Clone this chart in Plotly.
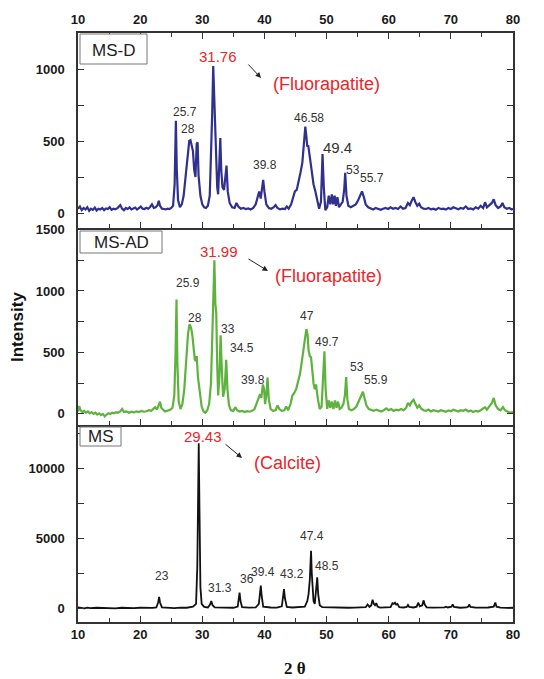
import plotly.graph_objects as go

# ---------------- data ----------------
msd_points = [(10.0,30),(10.3,45),(10.6,20),(10.9,35),(11.2,25),(11.5,40),(11.8,15),(12.1,30),(12.4,22),(12.7,38),
(13.0,18),(13.3,30),(13.6,25),(13.9,35),(14.2,20),(14.5,32),(14.8,28),(15.1,40),(15.4,22),(15.7,30),(16.0,26),
(16.4,36),(16.8,55),(17.1,30),(17.4,20),(17.7,35),(18.0,28),(18.3,40),(18.6,25),(18.9,30),(19.2,38),(19.5,24),
(19.8,33),(20.1,45),(20.4,30),(20.7,28),(21.0,36),(21.3,30),(21.6,42),(21.9,60),(22.2,35),(22.5,40),(22.8,55),
(23.0,85),(23.2,50),(23.5,30),(23.8,28),(24.1,25),(24.4,30),(24.7,28),(25.0,35),(25.3,50),(25.55,200),(25.75,640),
(25.9,300),(26.1,90),(26.4,40),(26.7,60),(27.0,120),(27.3,250),(27.6,420),(27.9,500),(28.1,505),(28.3,470),(28.5,430),
(28.7,300),(28.9,250),(29.1,480),(29.25,490),(29.4,260),(29.7,120),(30.0,60),(30.3,40),(30.6,35),(30.9,50),(31.2,120),
(31.45,400),(31.6,700),(31.76,1020),(31.9,800),(32.05,660),(32.2,450),(32.4,180),(32.55,130),(32.75,350),(32.9,520),
(33.05,300),(33.25,180),(33.5,160),(33.75,250),(33.9,330),(34.1,150),(34.4,70),(34.8,40),(35.2,35),(35.5,70),(35.8,45),
(36.2,30),(36.6,35),(37.0,28),(37.4,32),(37.8,25),(38.2,35),(38.6,60),(38.9,110),(39.15,150),(39.4,100),(39.6,160),
(39.8,230),(40.0,150),(40.3,60),(40.7,35),(41.1,30),(41.5,40),(41.8,55),(42.1,35),(42.5,25),(42.9,30),(43.3,28),
(43.6,45),(43.9,30),(44.3,60),(44.6,110),(44.9,150),(45.2,160),(45.5,210),(45.8,280),(46.1,350),(46.35,480),
(46.58,600),(46.75,530),(46.9,460),(47.05,470),(47.2,420),(47.4,380),(47.6,300),(47.9,200),(48.2,150),(48.5,90),
(48.8,30),(49.1,80),(49.35,410),(49.55,180),(49.8,20),(50.1,40),(50.35,120),(50.6,60),(50.85,130),(51.05,60),
(51.3,120),(51.5,50),(51.75,110),(52.0,40),(52.3,60),(52.6,80),(52.85,170),(53.0,280),(53.2,120),(53.5,50),(53.9,40),
(54.3,50),(54.7,60),(55.1,90),(55.4,120),(55.7,150),(56.0,110),(56.3,60),(56.7,40),(57.1,30),(57.5,25),(57.9,35),
(58.3,30),(58.7,22),(59.1,30),(59.5,35),(59.9,28),(60.3,40),(60.7,30),(61.1,35),(61.5,28),(61.9,45),(62.3,30),
(62.7,35),(63.1,70),(63.4,55),(63.7,85),(64.0,110),(64.3,75),(64.6,50),(64.9,65),(65.2,40),(65.6,30),(66.0,28),
(66.4,35),(66.8,25),(67.2,30),(67.6,22),(68.0,35),(68.4,28),(68.8,30),(69.2,24),(69.6,35),(70.0,28),(70.4,40),
(70.8,30),(71.2,26),(71.6,35),(72.0,30),(72.4,45),(72.8,28),(73.2,32),(73.6,25),(74.0,40),(74.4,30),(74.8,50),
(75.2,35),(75.5,75),(75.8,40),(76.2,55),(76.6,70),(76.9,95),(77.2,55),(77.6,35),(78.0,45),(78.3,70),(78.6,40),
(79.0,30),(79.4,35),(79.8,25),(80.0,30)]

msad_points = [(10.0,20),(10.2,65),(10.4,30),(10.7,15),(11.0,25),(11.3,10),(11.6,20),(11.9,5),(12.2,15),(12.5,0),
(12.8,10),(13.1,-5),(13.4,5),(13.7,-10),(14.0,0),(14.3,-20),(14.6,-5),(14.9,5),(15.2,0),(15.5,10),(15.8,5),(16.1,15),
(16.4,10),(16.8,20),(17.1,40),(17.4,15),(17.8,20),(18.2,10),(18.6,18),(19.0,12),(19.4,20),(19.8,15),(20.2,25),
(20.6,18),(21.0,22),(21.4,30),(21.8,25),(22.1,40),(22.4,55),(22.7,35),(23.0,70),(23.2,100),(23.4,50),(23.7,30),
(24.0,20),(24.3,25),(24.6,30),(24.9,35),(25.2,50),(25.5,150),(25.7,500),(25.85,930),(26.0,400),(26.2,100),(26.5,40),
(26.8,80),(27.1,200),(27.4,400),(27.7,650),(27.95,730),(28.2,700),(28.4,640),(28.6,560),(28.8,440),(29.0,430),
(29.1,470),(29.3,300),(29.6,150),(29.9,60),(30.2,20),(30.5,10),(30.8,30),(31.1,80),(31.4,250),(31.7,700),(31.95,1250),
(32.1,900),(32.25,820),(32.4,400),(32.55,150),(32.75,300),(32.95,640),(33.15,350),(33.35,140),(33.6,200),(33.85,440),
(34.05,200),(34.3,70),(34.6,30),(35.0,25),(35.3,55),(35.6,30),(36.0,20),(36.4,25),(36.8,15),(37.2,22),(37.6,18),
(38.0,25),(38.4,40),(38.7,90),(39.0,120),(39.3,160),(39.5,130),(39.75,240),(39.95,200),(40.1,80),(40.3,150),
(40.5,295),(40.7,120),(41.0,40),(41.4,25),(41.8,30),(42.1,70),(42.4,40),(42.8,25),(43.2,30),(43.5,60),(43.8,30),
(44.2,80),(44.5,150),(44.8,170),(45.1,200),(45.4,250),(45.7,320),(46.0,420),(46.3,550),(46.55,620),(46.75,690),
(46.95,640),(47.1,520),(47.3,470),(47.5,460),(47.7,330),(47.9,250),(48.1,200),(48.3,240),(48.6,120),(48.9,40),
(49.2,60),(49.5,300),(49.65,510),(49.85,200),(50.1,40),(50.35,110),(50.6,50),(50.85,100),(51.1,40),(51.35,110),
(51.6,50),(51.85,100),(52.1,40),(52.4,50),(52.7,80),(52.95,150),(53.15,300),(53.35,120),(53.6,40),(54.0,30),
(54.4,40),(54.8,60),(55.2,100),(55.5,140),(55.85,180),(56.1,130),(56.4,70),(56.8,40),(57.2,30),(57.6,25),(58.0,35),
(58.4,28),(58.8,20),(59.2,30),(59.6,45),(60.0,30),(60.4,40),(60.8,25),(61.2,35),(61.6,30),(62.0,40),(62.4,30),
(62.8,50),(63.1,90),(63.4,70),(63.7,100),(64.0,115),(64.3,80),(64.6,50),(64.9,70),(65.2,45),(65.6,30),(66.0,25),
(66.4,35),(66.8,20),(67.2,30),(67.6,25),(68.0,20),(68.4,30),(68.8,25),(69.2,18),(69.6,28),(70.0,22),(70.4,35),
(70.8,25),(71.2,20),(71.6,30),(72.0,25),(72.4,35),(72.8,20),(73.2,28),(73.6,15),(74.0,25),(74.4,20),(74.8,30),
(75.2,45),(75.5,55),(75.8,35),(76.2,60),(76.6,90),(76.9,130),(77.2,70),(77.6,40),(78.0,30),(78.4,55),(78.7,30),
(79.1,20),(79.5,10),(80.0,15)]

ms_points = [(10.0,40),(11.0,-20),(11.5,30),(12.0,0),(13.0,20),(14.0,-10),(15.0,10),(16.0,-20),(17.0,20),(18.0,0),
(19.0,-10),(20.0,20),(21.0,0),(22.0,10),(22.6,40),(22.9,400),(23.05,800),(23.2,400),(23.5,50),(24.5,20),(25.5,0),
(26.5,30),(27.5,20),(28.5,100),(29.0,300),(29.2,3000),(29.35,8000),(29.43,11800),(29.55,7000),(29.7,1500),(29.9,300),
(30.3,80),(30.9,40),(31.25,250),(31.45,500),(31.65,200),(32.0,40),(33.0,30),(34.0,20),(35.0,20),(35.7,100),(35.85,600),
(36.0,1100),(36.15,500),(36.4,60),(37.5,30),(38.6,40),(39.1,300),(39.3,1300),(39.42,1600),(39.55,900),(39.8,100),
(41.0,40),(42.0,30),(42.8,120),(43.0,700),(43.15,1350),(43.3,700),(43.6,80),(44.5,40),(45.5,50),(46.5,100),(46.9,500),
(47.1,1000),(47.3,2000),(47.5,4100),(47.62,2500),(47.75,1700),(47.9,500),(48.1,300),(48.3,1200),(48.5,2200),
(48.65,1000),(48.9,200),(49.3,60),(50.5,40),(51.5,30),(52.5,40),(53.5,20),(54.5,30),(55.5,20),(56.3,60),(56.6,250),
(56.9,80),(57.2,200),(57.4,600),(57.6,300),(57.8,200),(58.0,350),(58.2,100),(58.6,30),(59.5,40),(60.3,60),(60.6,350),
(60.8,300),(61.0,380),(61.2,250),(61.4,300),(61.7,60),(62.4,40),(62.9,80),(63.1,220),(63.3,80),(64.0,40),(64.5,100),
(64.75,380),(65.0,120),(65.4,200),(65.6,550),(65.8,250),(66.1,50),(67.0,30),(68.0,20),(69.0,50),(69.2,100),(69.5,40),
(70.1,100),(70.3,250),(70.5,80),(71.5,20),(72.5,40),(72.8,100),(72.95,250),(73.15,80),(74.0,30),(75.0,20),(76.0,40),
(76.9,100),(77.15,400),(77.35,100),(78.0,30),(79.0,10),(80.0,20)]

msd_x = [p[0] for p in msd_points]; msd_y = [p[1] for p in msd_points]
msad_x = [p[0] for p in msad_points]; msad_y = [p[1] for p in msad_points]
ms_x = [p[0] for p in ms_points]; ms_y = [p[1] for p in ms_points]

sample_names = ["MS-D", "MS-AD", "MS"]
x_tick_vals = [10, 20, 30, 40, 50, 60, 70, 80]
y1_ticks = [0, 500, 1000]
y2_ticks = [0, 500, 1000, 1500]
y3_ticks = [0, 5000, 10000]

# ---------------- layout helpers ----------------
W, H = 544, 679
L, R, T, B = 78, 513, 33, 622

def P(px, py):
    return (px - L) / (R - L), (B - py) / (B - T)

AX = '#333333'
FONT = 'Arial, Liberation Sans, sans-serif'

fig = go.Figure()
fig.add_trace(go.Scatter(x=msd_x, y=msd_y, xaxis='x', yaxis='y', mode='lines',
                         line=dict(color='#30308f', width=2.2), showlegend=False))
fig.add_trace(go.Scatter(x=msad_x, y=msad_y, xaxis='x2', yaxis='y2', mode='lines',
                         line=dict(color='#5db33d', width=2.2), showlegend=False))
fig.add_trace(go.Scatter(x=ms_x, y=ms_y, xaxis='x3', yaxis='y3', mode='lines',
                         line=dict(color='#111111', width=1.8), showlegend=False))

def xax(anchor, side, labels, standoff, mirror):
    return dict(domain=[0, 1], anchor=anchor, side=side, range=[10, 80], automargin=False,
                tickvals=x_tick_vals, ticks='inside', ticklen=6, tickwidth=1.3, tickcolor=AX,
                showline=True, linecolor=AX, linewidth=1.5, mirror=mirror,
                showgrid=False, zeroline=False, showticklabels=labels,
                ticklabelstandoff=standoff,
                tickfont=dict(family=FONT, size=13, color='#1a1a1a', weight='bold'),
                minor=dict(ticks='inside', dtick=5, tick0=0, ticklen=4, tickwidth=1.3,
                           tickcolor=AX, showgrid=False))

def yax(anchor, dom, rng, tv, minor_vals):
    return dict(domain=dom, anchor=anchor, range=rng, tickvals=tv, ticktext=[str(v) for v in tv],
                automargin=False,
                ticks='inside', ticklen=6, tickwidth=1.3, tickcolor=AX,
                showline=True, linecolor=AX, linewidth=1.5, mirror='ticks',
                showgrid=False, zeroline=False, ticklabelstandoff=9,
                tickfont=dict(family=FONT, size=13, color='#1a1a1a', weight='bold'),
                minor=dict(ticks='inside', tickvals=minor_vals, ticklen=6, tickwidth=1.3,
                           tickcolor=AX, showgrid=False))

d1 = P(0, 228)[1]
d1b = P(0, 229.5)[1]
d2 = P(0, 425)[1]
d2b = P(0, 426.5)[1]

fig.update_layout(
    width=W, height=H, margin=dict(l=L, r=W - R, t=T, b=H - B, autoexpand=False),
    paper_bgcolor='white', plot_bgcolor='white',
    xaxis=xax('y', 'top', True, 2, 'ticks'),
    xaxis2=xax('y2', 'bottom', False, 0, True),
    xaxis3=xax('y3', 'bottom', True, 0, True),
    yaxis=yax('x', [d1, 1], [-104, 1250], y1_ticks, [250, 750]),
    yaxis2=yax('x2', [d2, d1b], [-90, 1500], y2_ticks, [250, 750, 1250]),
    yaxis3=yax('x3', [0, d2b], [-1000, 13000], y3_ticks, [2500, 7500, 12500]),
)

annotations = []
shapes = []

def text(px, py, s, size=12, color='#333', bold=False, family=FONT, angle=0):
    x, y = P(px, py)
    annotations.append(dict(x=x, y=y, xref='paper', yref='paper', text=s, showarrow=False,
                            xanchor='center', yanchor='middle', textangle=angle,
                            font=dict(family=family, size=size, color=color,
                                      weight='bold' if bold else 'normal')))

def arrow(tx, ty, hx, hy):
    x, y = P(hx, hy)
    annotations.append(dict(x=x, y=y, xref='paper', yref='paper', text='', showarrow=True,
                            ax=tx - hx, ay=ty - hy, arrowhead=2, arrowsize=1.1,
                            arrowwidth=1, arrowcolor='#222'))

def box(x0, y0, x1, y1, s, tx, ty):
    a0, b0 = P(x0, y1)
    a1, b1 = P(x1, y0)
    shapes.append(dict(type='rect', xref='paper', yref='paper', x0=a0, y0=b0, x1=a1, y1=b1,
                       line=dict(color='#777', width=1), fillcolor='white'))
    text(tx, ty, s, size=17, color='#222')

RED = '#e8262b'
# panel 1
box(80, 34, 147, 64, sample_names[0], 113, 51)
text(218, 56, '31.76', 15, RED)
arrow(247, 63, 261, 78)
text(326, 84, '(Fluorapatite)', 18, RED)
text(185, 112, '25.7')
text(188, 129, '28')
text(309, 118, '46.58')
text(337, 147, '49.4', 15)
text(265, 165, '39.8')
text(353, 170, '53')
text(372, 178, '55.7')
# panel 2
box(80, 231, 162, 253, sample_names[1], 121, 242)
text(219, 252, '31.99', 15, RED)
arrow(247, 258, 268, 271)
text(328, 276, '(Fluorapatite)', 18, RED)
text(188, 283, '25.9')
text(195, 318, '28')
text(228, 329, '33')
text(242, 348, '34.5')
text(253, 380, '39.8')
text(307, 316, '47')
text(327, 342, '49.7')
text(357, 367, '53')
text(376, 380, '55.9')
# panel 3
box(80, 427, 121, 446, sample_names[2], 101, 436)
text(203, 436, '29.43', 15, RED)
arrow(224, 443, 242, 458)
text(287, 463, '(Calcite)', 18, RED)
text(162, 576, '23')
text(220, 588, '31.3')
text(247, 579, '36')
text(263, 572, '39.4')
text(292, 574, '43.2')
text(312, 536, '47.4')
text(327, 566, '48.5')
# axis titles
text(17, 327, 'Intensity', 17, '#111', True, angle=-90)
text(295, 668, '2 θ', 17, '#111', True, family='Liberation Serif, Times New Roman, serif')

fig.update_layout(annotations=annotations, shapes=shapes)
fig.write_html('out.html')
